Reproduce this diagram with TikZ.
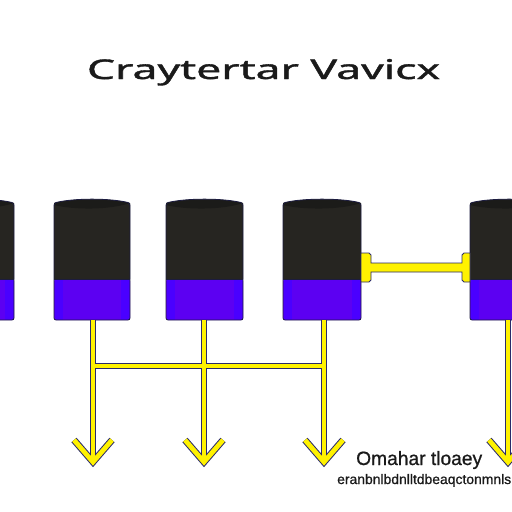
\documentclass[tikz,border=0pt]{standalone}
\usepackage{fontspec}
\setmainfont{Liberation Sans}
\newfontfamily\titlefont[FakeBold=1.2]{Noto Sans}
\newfontfamily\capfont[FakeBold=0.8]{Liberation Sans}
\definecolor{cylbody}{HTML}{262521}
\definecolor{cyllid}{HTML}{1B1B19}
\definecolor{cylpurple}{HTML}{5C00F2}
\definecolor{cylside}{HTML}{4A00FF}
\definecolor{cylline}{HTML}{1C1C40}
\definecolor{wireyel}{HTML}{FFF200}
\definecolor{wireout}{HTML}{2A2A6A}
\definecolor{textcol}{HTML}{1A1A1A}
\newcommand\mycyl[3]{%
  \fill[cylpurple, rounded corners=2pt] (#2,279) -- (#2,320) -- (#3,320) -- (#3,279) -- cycle;
  \fill[cylside] (#2+0.5,279) rectangle (#2+9,319.5);
  \fill[cylside] (#3-9,279) rectangle (#3-0.5,319.5);
  \fill[cylbody] (#2,203) .. controls (#2+20,198) and (#3-20,198) .. (#3,203) -- (#3,279) -- (#2,279) -- cycle;
  \fill[cyllid] (#2,203) .. controls (#2+20,198) and (#3-20,198) .. (#3,203) .. controls (#3-20,210) and (#2+20,210) .. (#2,205) -- cycle;
  \draw[cylline, line width=0.8pt, rounded corners=2pt] (#2,203) .. controls (#2+20,198) and (#3-20,198) .. (#3,203) -- (#3,320) -- (#2,320) -- cycle;
  \draw[cylline, line width=0.6pt] (#2,279) -- (#3,279);
  \coordinate (#1) at ({(#2+#3)/2},260);
}
\begin{document}
\begin{tikzpicture}[x=1pt,y=-1pt,
  wireO/.style={draw=wireout, line width=6.8pt, line cap=butt, line join=miter},
  wireY/.style={draw=wireyel, line width=4.8pt, line cap=butt, line join=miter}]
\useasboundingbox (0,0) rectangle (512,512);
\fill[white] (0,0) rectangle (512,512);
\begin{scope}
\clip (0,0) rectangle (512,512);
% title
\node[anchor=base, inner sep=0pt, text=textcol] (title) at (263.5,79) {\resizebox{353pt}{20pt}{\titlefont Craytertar Vavicx}};
% cylinders
\mycyl{cyl0}{-62}{14}
\mycyl{cyl1}{54}{130}
\mycyl{cyl2}{166}{243}
\mycyl{cyl3}{283}{361}
\mycyl{cyl4}{470}{548}
% connection points
\coordinate (b1) at (93,320);
\coordinate (b2) at (204,320);
\coordinate (b3) at (324,320);
\coordinate (b4) at (508,320);
\coordinate (j1) at (93,366);
\coordinate (j3) at (324,366);
\coordinate (t1) at (93,462);
\coordinate (t2) at (204,462);
\coordinate (t3) at (324,462);
\coordinate (t4) at (508,462);
% outlines
\draw[wireO] (b1) -- (t1);
\draw[wireO] (b2) -- (t2);
\draw[wireO] (b3) -- (t3);
\draw[wireO] (b4) -- (t4);
\draw[wireO] (j1) -- (j3);
\foreach \t in {t1,t2,t3,t4} {
  \draw[wireO] ([xshift=-19pt,yshift=22pt]\t) -- (\t) -- ([xshift=19pt,yshift=22pt]\t);
}
% yellow
\draw[wireY] (b1) -- (t1);
\draw[wireY] (b2) -- (t2);
\draw[wireY] (b3) -- (t3);
\draw[wireY] (b4) -- (t4);
\draw[wireY] (j1) -- (j3);
\foreach \t in {t1,t2,t3,t4} {
  \draw[wireY] ([xshift=-19pt,yshift=22pt]\t) -- (\t) -- ([xshift=19pt,yshift=22pt]\t);
}
% T-link between cyl3 and cyl4
\filldraw[fill=wireyel, draw=wireout, line width=0.8pt]
  (361,253) -- (369,253) -- (371,255) -- (371,263) -- (462,263) -- (462,255) -- (464,253) -- (470,253)
  -- (470,282) -- (464,282) -- (462,280) -- (462,272) -- (371,272) -- (371,280) -- (369,282) -- (361,282) -- cycle;
% captions
\node[anchor=base west, inner sep=0pt, text=textcol] (cap1) at (356,465) {\resizebox{126pt}{14pt}{\capfont Omahar tloaey}};
\node[anchor=base west, inner sep=0pt, text=textcol] (cap2) at (337,484) {\resizebox{174pt}{10pt}{\capfont eranbnlbdnlltdbeaqctonmnls}};
\end{scope}
\end{tikzpicture}
\end{document}
